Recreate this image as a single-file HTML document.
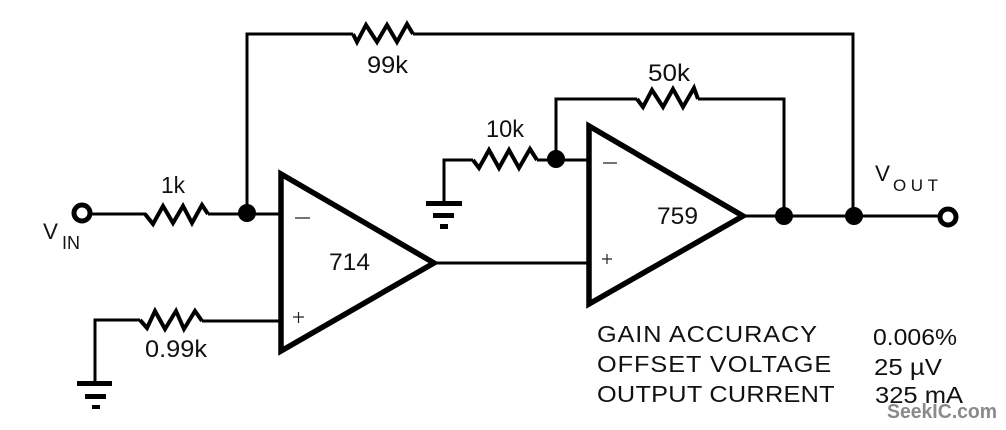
<!DOCTYPE html>
<html><head><meta charset="utf-8"><style>
html,body{margin:0;padding:0;background:#fff;width:1006px;height:430px;overflow:hidden}
svg{display:block}
text{font-family:"Liberation Sans",sans-serif;fill:#111}
.w{fill:none;stroke:#000;stroke-width:3;stroke-linejoin:miter}
.r{fill:none;stroke:#000;stroke-width:4}
.a{fill:none;stroke:#000;stroke-width:5.5;stroke-linejoin:miter}
</style></head><body>
<svg width="1006" height="430" viewBox="0 0 1006 430" xmlns="http://www.w3.org/2000/svg">
<rect width="1006" height="430" fill="#fff"/>
<!-- wires -->
<path class="w" d="M90 214H146M208 214H280M247 213V34H353M413 34H853V216M95 382V320H140M202 321H280"/>
<path class="w" d="M436 263H588M444 202V160H473M537 160H588M556 159V99H637M698 99H784V216M746 216H940"/>
<!-- resistors -->
<path class="r" d="M145 214L153 224L163 206L173 223L183 206L192 223L202 205L208 214"/>
<path class="r" d="M140 320L147 328L155 311L165 329L176 311L184 329L195 311L202 321"/>
<path class="r" d="M353 34L357 42L366 25L377 42L387 25L397 42L407 24L413 34"/>
<path class="r" d="M473 160L479 168L489 150L499 168L509 150L519 168L530 149L537 160"/>
<path class="r" d="M637 99L643 107L652 90L663 107L673 89L683 107L694 88L698 99"/>
<!-- op amps -->
<path class="a" d="M281 174L434 263L281 351Z"/>
<path class="a" d="M589 126L743 216L589 304Z"/>
<!-- dots -->
<circle cx="247" cy="213" r="9"/><circle cx="556" cy="159" r="9"/>
<circle cx="784" cy="216" r="9"/><circle cx="854" cy="216" r="9"/>
<!-- terminals -->
<circle cx="82" cy="213" r="8" fill="#fff" stroke="#000" stroke-width="5"/>
<circle cx="948" cy="217" r="8" fill="#fff" stroke="#000" stroke-width="5"/>
<!-- grounds -->
<g fill="#000">
<rect x="77" y="381" width="35" height="5"/><rect x="85" y="394" width="21" height="5"/><rect x="92" y="405" width="8" height="4"/>
<rect x="426" y="201" width="36" height="5"/><rect x="433" y="213" width="21" height="5"/><rect x="440" y="224" width="8" height="5"/>
</g>
<!-- signs -->
<path d="M295 218H310M603 163H617M293 317H304M298.500 312V323M602 259H612M607 254V264" stroke="#222" stroke-width="1.2" fill="none"/>
<!-- labels -->
<text x="161" y="193" font-size="23" textLength="24" lengthAdjust="spacingAndGlyphs">1k</text>
<text x="145" y="357" font-size="24" textLength="62" lengthAdjust="spacingAndGlyphs">0.99k</text>
<text x="367" y="73" font-size="24" textLength="41" lengthAdjust="spacingAndGlyphs">99k</text>
<text x="486" y="137" font-size="24" textLength="38" lengthAdjust="spacingAndGlyphs">10k</text>
<text x="648" y="81" font-size="24" textLength="42" lengthAdjust="spacingAndGlyphs">50k</text>
<text x="329" y="270" font-size="24" textLength="41" lengthAdjust="spacingAndGlyphs">714</text>
<text x="657" y="224" font-size="24" textLength="41" lengthAdjust="spacingAndGlyphs">759</text>
<text x="43" y="239" font-size="22" textLength="15" lengthAdjust="spacingAndGlyphs">V</text>
<text x="62" y="249" font-size="18" textLength="18" lengthAdjust="spacingAndGlyphs">IN</text>
<text x="875" y="181" font-size="22" textLength="15" lengthAdjust="spacingAndGlyphs">V</text>
<text x="893" y="191" font-size="17" textLength="45">OUT</text>
<text transform="translate(597 342) scale(1.1 1)" font-size="23" textLength="200">GAIN ACCURACY</text>
<text transform="translate(597 372) scale(1.1 1)" font-size="23" textLength="213">OFFSET VOLTAGE</text>
<text transform="translate(597 402) scale(1.1 1)" font-size="23" textLength="216">OUTPUT CURRENT</text>
<text x="873" y="345" font-size="23" textLength="84" lengthAdjust="spacingAndGlyphs">0.006%</text>
<text x="874" y="375" font-size="23" textLength="68" lengthAdjust="spacingAndGlyphs">25 µV</text>
<text x="875" y="403" font-size="23" textLength="88" lengthAdjust="spacingAndGlyphs">325 mA</text>
<text x="887" y="418" font-size="20" font-weight="bold" style="fill:#8a8a8a" textLength="110" lengthAdjust="spacingAndGlyphs">SeekIC.com</text>
</svg>
</body></html>
